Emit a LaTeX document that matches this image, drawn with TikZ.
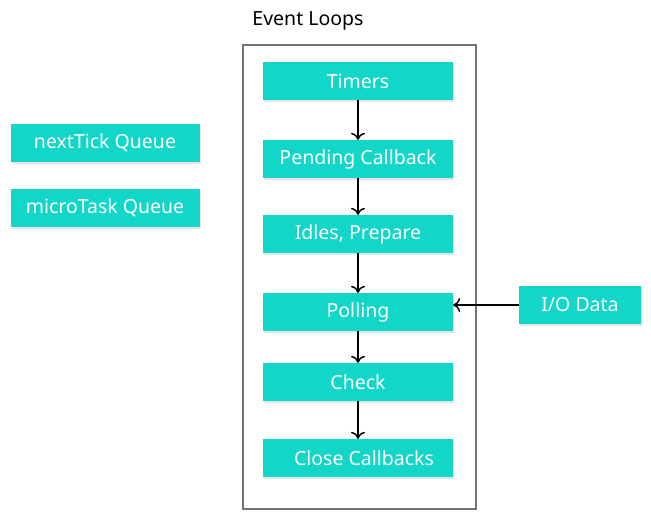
\documentclass[tikz,border=0pt]{standalone}
\usepackage{fontspec}
\setmainfont{Noto Sans}
\usetikzlibrary{arrows.meta,shadows}
\definecolor{tq}{HTML}{12D6C8}
\begin{document}
\begin{tikzpicture}[x=1pt,y=-1pt,
  bx/.style={fill=tq,text=white,minimum width=190pt,minimum height=38pt,inner sep=0pt,font=\fontsize{19.5}{22}\selectfont,drop shadow={shadow xshift=1pt,shadow yshift=-2pt,fill=black!20}},
  ar/.style={-{To[length=7pt,width=14pt]},line width=1.5pt}]
\useasboundingbox (0,0) rectangle (651,516);
\node[font=\fontsize{19.5}{22}\selectfont] (title) at (308,21) {Event Loops};
\draw[line width=2.6pt,draw=black!55] (243,45) rectangle (476,509);
\node[bx] (T) at (358,81) {Timers};
\node[bx] (P) at (358,159) {Pending Callback};
\node[bx] (I) at (358,234) {Idles, Prepare};
\node[bx] (L) at (358,312) {Polling};
\node[bx] (C) at (358,382) {Check};
\node[bx] (X) at (358,458) {\hspace{12pt}Close Callbacks};
\node[bx,minimum width=189pt] (N) at (105,143) {nextTick Queue};
\node[bx,minimum width=189pt] (M) at (105,208) {microTask Queue};
\node[bx,minimum width=122pt] (D) at (580,305) {I/O Data};
\draw[ar] (T) -- (P);
\draw[ar] (P) -- (I);
\draw[ar] (I) -- (L);
\draw[ar] (L) -- (C);
\draw[ar] (C) -- (X);
\draw[ar] (D.west) -- (L.east |- D.west);
\end{tikzpicture}
\end{document}
